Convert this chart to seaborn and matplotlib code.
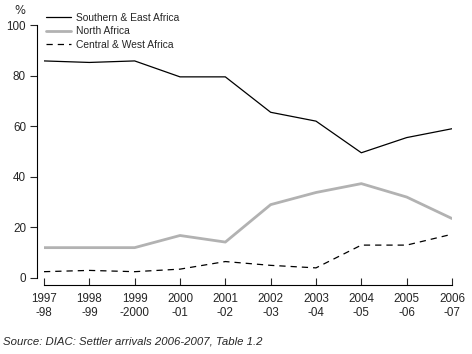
import pandas as pd
import seaborn as sns
import matplotlib.pyplot as plt

years = ['1997\n-98', '1998\n-99', '1999\n-2000', '2000\n-01', '2001\n-02',
         '2002\n-03', '2003\n-04', '2004\n-05', '2005\n-06', '2006\n-07']
southern_east = [85.8, 85.2, 85.8, 79.5, 79.5, 65.5, 62.0, 49.5, 55.5, 59.0]
north = [12.0, 12.0, 12.0, 16.8, 14.2, 29.0, 33.8, 37.3, 32.0, 23.5]
central_west = [2.5, 3.0, 2.5, 3.5, 6.5, 5.0, 4.0, 13.0, 13.0, 17.3]

df = pd.DataFrame({'x': range(len(years)),
                   'Southern & East Africa': southern_east,
                   'North Africa': north,
                   'Central & West Africa': central_west})

sns.set_style('white')
plt.rcParams['font.family'] = ['Liberation Sans', 'DejaVu Sans']

fig = plt.figure(figsize=(4.72, 3.54), dpi=100)
ax = fig.add_axes([44 / 472, 1 - 278 / 354, (452 - 44) / 472, (278 - 25) / 354])

sns.lineplot(data=df, x='x', y='Southern & East Africa', color='black', lw=0.9,
             label='Southern & East Africa', ax=ax)
sns.lineplot(data=df, x='x', y='North Africa', color='#b2b2b2', lw=2,
             label='North Africa', ax=ax)
sns.lineplot(data=df, x='x', y='Central & West Africa', color='black', lw=0.9,
             linestyle=(0, (5, 4)), label='Central & West Africa', ax=ax)

ax.set_xlim(0, 9)
ax.set_ylim(0, 100)
ax.set_xticks(range(len(years)))
ax.set_xticklabels(years)
ax.set_yticks([0, 20, 40, 60, 80, 100])
ax.tick_params(axis='y', direction='out', length=5, width=0.8, labelsize=8.4,
               left=True, pad=3)
ax.tick_params(axis='x', direction='in', length=5, width=0.8, labelsize=8.4,
               bottom=True, pad=6)
for lab in ax.get_xticklabels() + ax.get_yticklabels():
    lab.set_family('DejaVu Sans')
for lab in ax.get_xticklabels():
    lab.set_linespacing(1.55)
ax.set_xlabel('')
ax.set_ylabel('')
sns.despine(ax=ax, offset=5)
for s in ['left', 'bottom']:
    ax.spines[s].set_color('black')
    ax.spines[s].set_linewidth(0.8)

ax.legend(loc='upper left', bbox_to_anchor=(-0.005, 1.065), frameon=False,
          fontsize=7.4, handlelength=2.4, handletextpad=0.5, labelspacing=0.35,
          borderaxespad=0)

fig.text(20 / 472, 1 - 11 / 354, '%', fontsize=8.4, ha='center', va='center',
         family='DejaVu Sans')
fig.text(3 / 472, 1 - 342 / 354, 'Source: DIAC: Settler arrivals 2006-2007, Table 1.2',
         fontsize=8.2, style='italic', ha='left', va='center')

fig.savefig('out.png', dpi=100)
